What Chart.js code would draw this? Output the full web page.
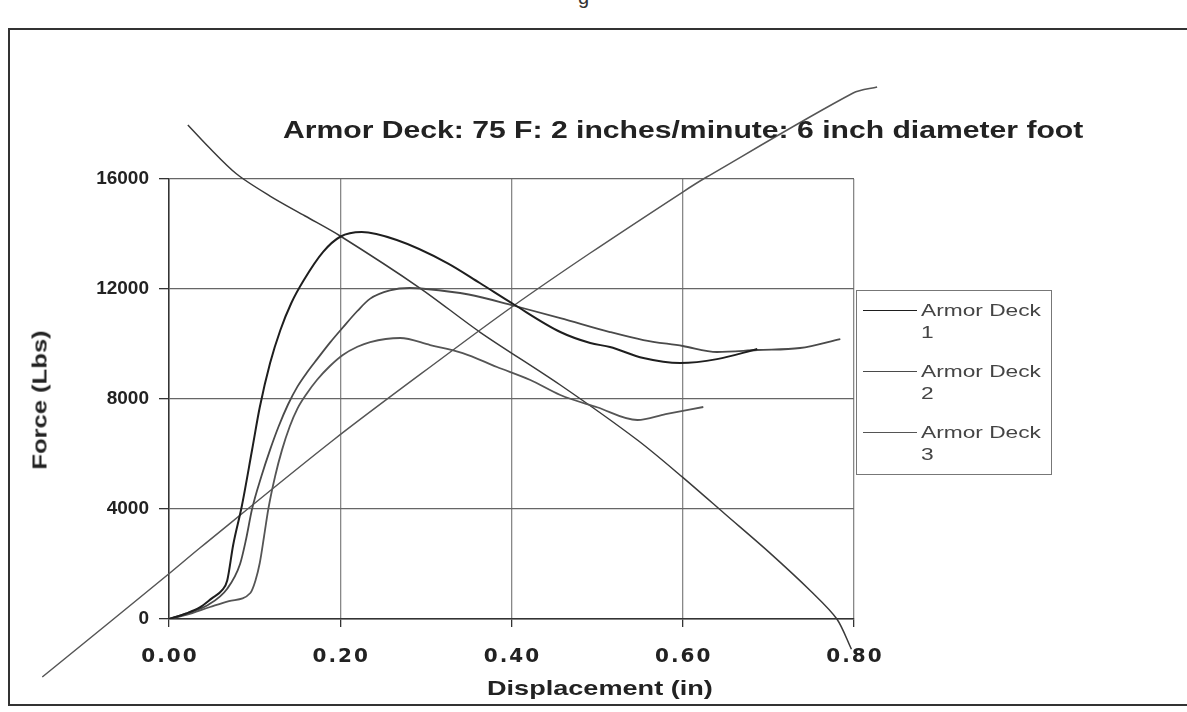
<!DOCTYPE html>
<html>
<head>
<meta charset="utf-8">
<script src="https://cdn.jsdelivr.net/npm/chart.js@4.4.1/dist/chart.umd.min.js"></script>
<style>
  html, body { margin: 0; padding: 0; background: #fff; }
  #wrap { position: relative; width: 1187px; height: 712px; overflow: hidden; font-family: "Liberation Sans", Arial, sans-serif; color: #222; }
  #frame { position: absolute; left: 8px; top: 28px; width: 1200px; height: 678px; border: 2px solid #333; box-sizing: border-box; }
  #cut { position: absolute; left: 578px; top: -14px; font-size: 20px; color: #333; }
  /* the scan is stretched sideways, so the texts are widened to match */
  #title { position: absolute; left: 283px; top: 117px; white-space: nowrap; font-weight: bold; font-size: 23px; transform: scaleX(1.31); transform-origin: 0 50%; }
  #ytitle { position: absolute; left: 40px; top: 400px; transform: translate(-50%, -50%) rotate(-90deg) scaleX(1.28); font-weight: bold; font-size: 20px; white-space: nowrap; }
  #xtitle { position: absolute; left: 487px; top: 676px; white-space: nowrap; font-weight: bold; font-size: 21px; transform: scaleX(1.29); transform-origin: 0 50%; }
  #legend { position: absolute; left: 856px; top: 290px; width: 196px; height: 185px; border: 1.5px solid #777; box-sizing: border-box; }
  .item { position: absolute; left: 6px; font-size: 16px; color: #444; line-height: 22px; }
  .item span.ln { position: absolute; left: 0; top: 10px; width: 54px; border-top: 1.5px solid #444; }
  .item span.tx { position: absolute; left: 58px; top: 0; white-space: nowrap; transform: scaleX(1.42); transform-origin: 0 50%; }
  canvas { position: absolute; left: 0; top: 0; }
</style>
</head>
<body>
<div id="wrap">
  <div id="frame"></div>
  <div id="cut">g</div>
  <canvas id="chart" width="1187" height="712"></canvas>
  <div id="title">Armor Deck: 75 F: 2 inches/minute: 6 inch diameter foot</div>
  <div id="ytitle">Force (Lbs)</div>
  <div id="xtitle">Displacement (in)</div>
  <div id="legend"></div>
</div>
<script>
const seriesNames = ["Armor Deck 1", "Armor Deck 2", "Armor Deck 3"];

// displacement (in) / force (lbs)
const deck1X = [0, 0.02, 0.036, 0.05, 0.062, 0.068, 0.075, 0.085, 0.097, 0.106, 0.118, 0.13, 0.143, 0.157, 0.18, 0.2, 0.225, 0.266, 0.325, 0.363, 0.402, 0.457, 0.492, 0.515, 0.554, 0.597, 0.64, 0.687];
const deck1Y = [0, 200, 420, 750, 1050, 1400, 2700, 4100, 6145, 7700, 9300, 10500, 11500, 12300, 13350, 13900, 14070, 13781, 12945, 12218, 11454, 10436, 10036, 9890, 9490, 9309, 9450, 9818];

const deck2X = [0, 0.02, 0.045, 0.068, 0.083, 0.09, 0.097, 0.108, 0.118, 0.128, 0.139, 0.15, 0.162, 0.173, 0.188, 0.203, 0.22, 0.235, 0.258, 0.281, 0.3, 0.35, 0.402, 0.457, 0.515, 0.554, 0.6, 0.64, 0.687, 0.737, 0.784];
const deck2Y = [0, 200, 500, 1100, 2000, 2900, 4000, 5200, 6150, 7000, 7800, 8450, 9000, 9450, 10050, 10600, 11200, 11650, 11950, 12036, 12000, 11800, 11400, 10945, 10436, 10145, 9927, 9709, 9781, 9854, 10181];

const deck3X = [0, 0.02, 0.048, 0.07, 0.095, 0.101, 0.106, 0.111, 0.116, 0.124, 0.132, 0.141, 0.15, 0.161, 0.173, 0.188, 0.203, 0.22, 0.235, 0.27, 0.305, 0.343, 0.383, 0.422, 0.457, 0.5, 0.547, 0.58, 0.624];
const deck3Y = [0, 150, 436, 650, 945, 1400, 2036, 3000, 4000, 5200, 6150, 7000, 7650, 8200, 8700, 9200, 9600, 9900, 10072, 10218, 9963, 9672, 9163, 8690, 8145, 7700, 7236, 7450, 7709];

// two long stray lines crossing the scanned page (listed right to left)
const strayAX = [0.827, 0.799, 0.628, 0.6, 0.492, 0.402, 0.316, 0.192, 0.036, 0.001, -0.069, -0.148];
const strayAY = [19345, 19127, 16072, 15527, 13309, 11382, 9418, 6509, 2582, 1673, -110, -2109];

const strayBX = [0.797, 0.78, 0.75, 0.7, 0.65, 0.6, 0.547, 0.457, 0.363, 0.293, 0.2, 0.159, 0.118, 0.079, 0.044, 0.022];
const strayBY = [-1100, 0, 1000, 2450, 3800, 5150, 6509, 8509, 10436, 12036, 13927, 14654, 15381, 16181, 17236, 17963];

const xTickLabels = ["0.00", "0.20", "0.40", "0.60", "0.80"];
const yTickLabels = ["0", "4000", "8000", "12000", "16000"];

function toPoints(xs, ys) {
  return xs.map((x, i) => ({ x, y: ys[i] }));
}

const lineColors = ["#1e1e1e", "#4a4a4a", "#555555"];

function curve(label, xs, ys, color, width) {
  return {
    label,
    data: toPoints(xs, ys),
    showLine: true,
    borderColor: color,
    borderWidth: width,
    pointRadius: 0,
    cubicInterpolationMode: "monotone"
  };
}

function stray(xs, ys, color) {
  return {
    label: "",
    data: toPoints(xs, ys),
    showLine: true,
    borderColor: color,
    borderWidth: 1.5,
    pointRadius: 0,
    tension: 0.3,
    clip: false
  };
}

// the scanned x tick labels sit a little wider apart than plain text
const spreadXLabels = {
  id: "spreadXLabels",
  beforeDraw(chart) {
    const xs = chart.scales.x;
    if (xs._spread) return;
    const orig = xs.drawLabels.bind(xs);
    xs.drawLabels = (area) => {
      chart.ctx.save();
      chart.ctx.letterSpacing = "2px";
      chart.ctx.translate(1, 0);
      orig(area);
      chart.ctx.restore();
    };
    xs._spread = true;
  }
};

const tickFont = { family: "'Liberation Sans', Arial, sans-serif", size: 19, weight: "bold" };

new Chart(document.getElementById("chart"), {
  type: "scatter",
  data: {
    datasets: [
      curve(seriesNames[0], deck1X, deck1Y, lineColors[0], 2),
      curve(seriesNames[1], deck2X, deck2Y, lineColors[1], 1.8),
      curve(seriesNames[2], deck3X, deck3Y, lineColors[2], 1.8),
      stray(strayAX, strayAY, "#555"),
      stray(strayBX, strayBY, "#3a3a3a")
    ]
  },
  plugins: [spreadXLabels],
  options: {
    responsive: false,
    animation: false,
    layout: { padding: { left: 0, top: 179, right: 333, bottom: 0 } },
    plugins: { legend: { display: false }, tooltip: { enabled: false } },
    scales: {
      x: {
        type: "linear",
        min: 0,
        max: 0.8,
        afterFit: (s) => { s.height = 93; },
        ticks: {
          stepSize: 0.2,
          color: "#222",
          font: { family: "'DejaVu Sans', sans-serif", size: 20, weight: "bold" },
          padding: 18,
          maxRotation: 0,
          callback: (v) => xTickLabels[Math.round(v / 0.2)]
        },
        grid: { color: "#888", lineWidth: 1.3, tickLength: 8, tickColor: "#333" },
        border: { color: "#333", width: 1.5 }
      },
      y: {
        min: 0,
        max: 16000,
        afterFit: (s) => { s.width = 169; },
        ticks: {
          stepSize: 4000,
          color: "#222",
          font: tickFont,
          padding: 10,
          callback: (v) => yTickLabels[Math.round(v / 4000)]
        },
        grid: { color: "#666", lineWidth: 1.3, tickLength: 10, tickColor: "#333" },
        border: { color: "#333", width: 1.5 }
      }
    }
  }
});

// legend box, drawn as html text
const legend = document.getElementById("legend");
seriesNames.forEach((name, i) => {
  const item = document.createElement("div");
  item.className = "item";
  item.style.top = (9 + i * 61) + "px";
  const parts = name.split(" ");
  item.innerHTML = `<span class="ln" style="border-top-color:${lineColors[i]}"></span>` +
    `<span class="tx">${parts.slice(0, 2).join(" ")}<br>${parts[2]}</span>`;
  legend.appendChild(item);
});
</script>
</body>
</html>
